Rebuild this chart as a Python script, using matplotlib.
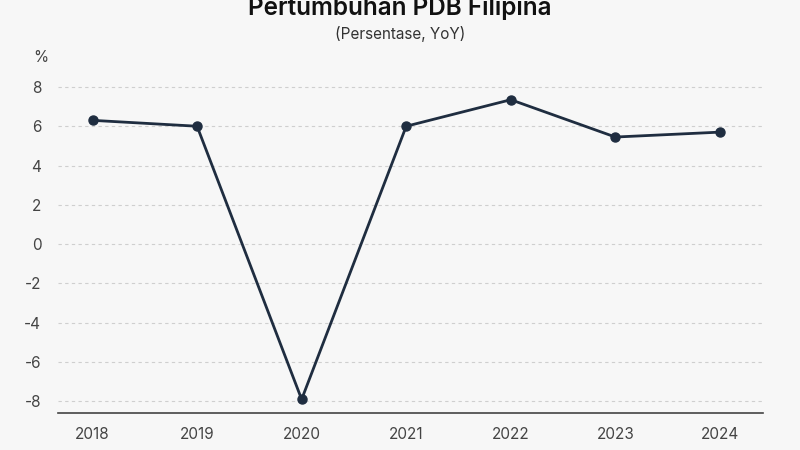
import matplotlib.pyplot as plt

plt.rcParams['font.family'] = ['Inter', 'DejaVu Sans']

tahun = ['2018', '2019', '2020', '2021', '2022', '2023', '2024']
pertumbuhan = [6.3, 6.0, -7.9, 6.0, 7.35, 5.45, 5.7]
yticks = [-8, -6, -4, -2, 0, 2, 4, 6, 8]

bg = '#f7f7f7'
garis = '#1f2d40'

fig = plt.figure(figsize=(8, 4.5), dpi=100, facecolor=bg)
ax = fig.add_axes([0.0725, 0.082, 0.881, 0.751], facecolor=bg)

x = list(range(len(tahun)))
ax.plot(x, pertumbuhan, color=garis, lw=2, marker='o', ms=6.5, zorder=3)

ax.set_xlim(-0.33, 6.41)
ax.set_ylim(-8.6, 8.6)
ax.set_xticks(x, tahun)
ax.set_yticks(yticks, [str(t) for t in yticks])
ax.grid(axis='y', color='#cfcfcf', ls=(0, (3, 3)), lw=0.8)
ax.tick_params(length=0, labelsize=11, labelcolor='#444444')
ax.tick_params(axis='x', pad=10)
ax.tick_params(axis='y', pad=12)
for s in ['top', 'right', 'left']:
    ax.spines[s].set_visible(False)
ax.spines['bottom'].set_color('#444444')
ax.spines['bottom'].set_linewidth(1.2)

fig.text(0.5, 1 - 7 / 450, 'Pertumbuhan PDB Filipina', ha='center', va='center',
         fontsize=17.5, fontweight='semibold', color='#111111')
fig.text(0.5, 1 - 34 / 450, '(Persentase, YoY)', ha='center', va='center',
         fontsize=11, color='#333333')
fig.text(41 / 800, 1 - 58 / 450, '%', ha='center', va='center', fontsize=11, color='#444444')

fig.savefig('out.png', dpi=100, facecolor=bg)
